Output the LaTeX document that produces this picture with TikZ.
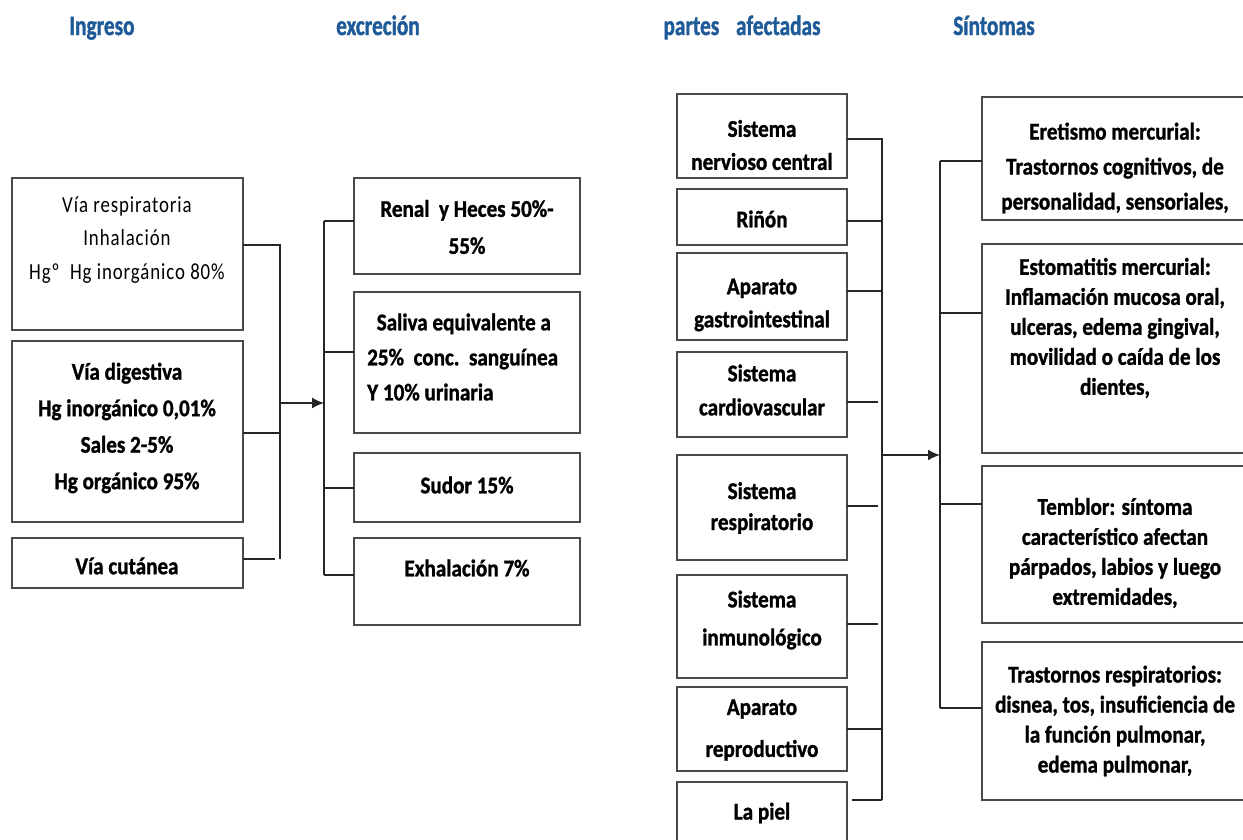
\documentclass[tikz,border=0pt]{standalone}
\usepackage{fontspec}
\setmainfont{Carlito}
\newfontfamily\bodyfont{Carlito}[FakeStretch=0.88,BoldFeatures={FakeBold=1.2}]
\newfontfamily\hdrfont{Carlito}[FakeStretch=0.76,BoldFeatures={FakeBold=1.2}]
\newfontfamily\litefont{Carlito}[FakeStretch=0.82,LetterSpace=4]
\usetikzlibrary{arrows.meta}
\definecolor{hdrblue}{HTML}{1F5B98}
\definecolor{boxgray}{HTML}{4A4A4A}
\newcommand\mkbox[5]{\node[boxnode, minimum width={#4pt-#2pt}, minimum height={#5pt-#3pt}] (#1) at (#2,#3) {};}
\newcommand\mkopenbox[5]{\node[boxnode, draw=none, minimum width={#4pt-#2pt}, minimum height={#5pt-#3pt}] (#1) at (#2,#3) {};
  \draw[boxline] (#1.north east) -- (#1.north west) -- (#1.south west) -- (#1.south east);}
\tikzset{
  boxnode/.style={draw=boxgray, line width=1.6pt, anchor=north west, inner sep=0pt, outer sep=0pt},
  boxline/.style={draw=boxgray, line width=1.6pt},
  hdr/.style={anchor=base, text=hdrblue, font=\hdrfont\bfseries\fontsize{28}{30}\selectfont, inner sep=0pt},
  txt/.style={align=center, inner sep=0pt, font=\bodyfont\bfseries\fontsize{24}{#1}\selectfont},
  txt/.default=30,
  lite/.style={align=center, inner sep=0pt, font=\litefont\fontsize{23}{#1}\selectfont},
  lite/.default=33.5,
  conn/.style={draw=black!85, line width=1.5pt},
  arrowc/.style={conn, -{Latex[length=12pt,width=11pt]}}
}
\begin{document}
\begin{tikzpicture}[x=1pt,y=-1pt]
\useasboundingbox (0,0) rectangle (1243,839);
% headers
\node[hdr] (h1) at (102,35) {Ingreso};
\node[hdr] (h2) at (378,35) {excreción};
\node[hdr] (h3) at (742,35) {partes\hspace{0.6em}afectadas};
\node[hdr] (h4) at (994,35) {Síntomas};
% ingreso
\mkbox{l1}{12}{178}{243}{330}
\node[lite] (l1t) at (127,240) {Vía respiratoria\\Inhalación\\Hgº\ \ Hg inorgánico 80\%};
\mkbox{l2}{12}{341}{243}{522}
\node[txt=36.5] (l2t) at (127,428) {Vía digestiva\\Hg inorgánico 0,01\%\\Sales 2-5\%\\Hg orgánico 95\%};
\mkbox{l3}{12}{538}{243}{588}
\node[txt] (l3t) at (127,566) {Vía cutánea};
% excrecion
\mkbox{e1}{354}{178}{580}{274}
\node[txt=37] (e1t) at (467,227) {Renal\ \ y Heces 50\%-\\55\%};
\mkbox{e2}{354}{292}{580}{433}
\node[txt=35, align=left, anchor=west] (e2t) at (367,357) {\ \ Saliva equivalente a\\25\%\ \ conc.\ \ sanguínea\\Y 10\% urinaria};
\mkbox{e3}{354}{453}{580}{522}
\node[txt] (e3t) at (467,485) {Sudor 15\%};
\mkbox{e4}{354}{538}{580}{625}
\node[txt] (e4t) at (467,568) {Exhalación 7\%};
% partes afectadas
\mkbox{p1}{677}{94}{847}{178}
\node[txt=33] (p1t) at (762,145) {Sistema\\nervioso central};
\mkbox{p2}{677}{189}{847}{245}
\node[txt] (p2t) at (762,219) {Riñón};
\mkbox{p3}{677}{253}{847}{340}
\node[txt=33] (p3t) at (762,305) {Aparato\\gastrointestinal};
\mkbox{p4}{677}{352}{847}{437}
\node[txt=34] (p4t) at (762,390) {Sistema\\cardiovascular};
\mkbox{p5}{677}{455}{847}{560}
\node[txt=31] (p5t) at (762,508) {Sistema\\respiratorio};
\mkbox{p6}{677}{575}{847}{678}
\node[txt=38] (p6t) at (762,620) {Sistema\\inmunológico};
\mkbox{p7}{677}{687}{847}{771}
\node[txt=42] (p7t) at (762,730) {Aparato\\reproductivo};
\mkbox{p8}{677}{782}{847}{848}
\node[txt] (p8t) at (762,813) {La piel};
% sintomas
\mkopenbox{s1}{982}{97}{1256}{220}
\node[txt=35] (s1t) at (1115,168) {Eretismo mercurial:\\Trastornos cognitivos, de\\personalidad, sensoriales,};
\mkopenbox{s2}{982}{244}{1256}{453}
\node[txt=30] (s2t) at (1115,328) {Estomatitis mercurial:\\Inflamación mucosa oral,\\ulceras, edema gingival,\\movilidad o caída de los\\dientes,};
\mkopenbox{s3}{982}{466}{1256}{623}
\node[txt=30] (s3t) at (1115,553) {Temblor: síntoma\\característico afectan\\párpados, labios y luego\\extremidades,};
\mkopenbox{s4}{982}{642}{1256}{800}
\node[txt=30] (s4t) at (1115,721) {Trastornos respiratorios:\\disnea, tos, insuficiencia de\\la función pulmonar,\\edema pulmonar,};
% connectors: ingreso -> excrecion
\coordinate (jL1) at (280,245);
\coordinate (jL2) at (280,433);
\coordinate (jL3) at (280,559);
\coordinate (jLa) at (280,403);
\coordinate (jE1) at (324,221);
\coordinate (jE2) at (324,352);
\coordinate (jE3) at (324,488);
\coordinate (jE4) at (324,575);
\draw[conn] (l1.east |- jL1) -- (jL1) -- (jL3);
\draw[conn] (l2.east |- jL2) -- (jL2);
\draw[conn] (l3.east |- jL3) -- ([xshift=-5pt]jL3);
\draw[arrowc] (jLa) -- (jLa -| jE1);
\draw[conn] (jE1) -- (jE4);
\draw[conn] (jE1) -- (e1.west |- jE1);
\draw[conn] (jE2) -- (e2.west |- jE2);
\draw[conn] (jE3) -- (e3.west |- jE3);
\draw[conn] (jE4) -- (e4.west |- jE4);
% partes -> sintomas
\coordinate (jP1) at (882,139);
\coordinate (jP2) at (882,221);
\coordinate (jP3) at (882,291);
\coordinate (jP4) at (878,402);
\coordinate (jP5) at (878,506);
\coordinate (jP6) at (878,624);
\coordinate (jP7) at (882,729);
\coordinate (jP8) at (882,800);
\coordinate (jPa) at (882,455);
\coordinate (jS1) at (940,161);
\coordinate (jS2) at (940,313);
\coordinate (jS3) at (940,504);
\coordinate (jS4) at (940,708);
\draw[conn] (p1.east |- jP1) -- (jP1) -- (jP8);
\draw[conn] (p2.east |- jP2) -- (jP2);
\draw[conn] (p3.east |- jP3) -- (jP3);
\draw[conn] (p4.east |- jP4) -- (jP4);
\draw[conn] (p5.east |- jP5) -- (jP5);
\draw[conn] (p6.east |- jP6) -- (jP6);
\draw[conn] (p7.east |- jP7) -- (jP7);
\draw[conn] ([xshift=5pt]p8.east |- jP8) -- (jP8);
\draw[arrowc] (jPa) -- (jPa -| jS1);
\draw[conn] (jS1) -- (jS4);
\draw[conn] (jS1) -- (s1.west |- jS1);
\draw[conn] (jS2) -- (s2.west |- jS2);
\draw[conn] (jS3) -- (s3.west |- jS3);
\draw[conn] (jS4) -- (s4.west |- jS4);
\end{tikzpicture}
\end{document}
